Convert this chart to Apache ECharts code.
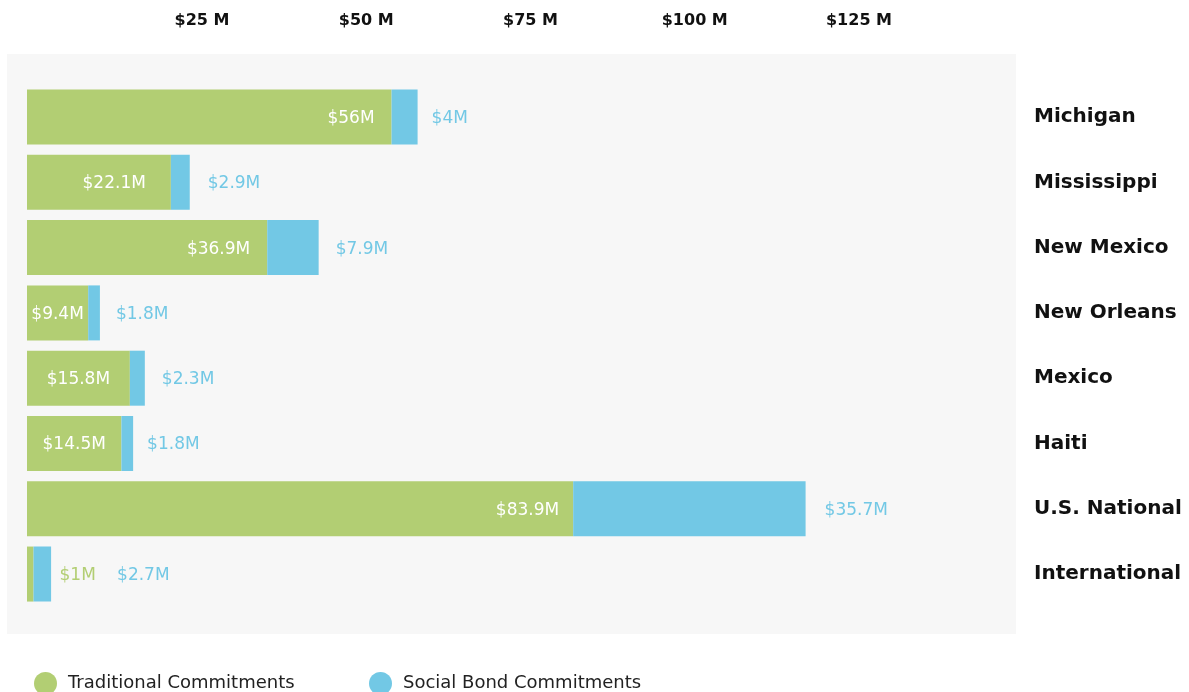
<!DOCTYPE html>
<html>
<head>
<meta charset="utf-8">
<script src="https://cdn.jsdelivr.net/npm/echarts@6/dist/echarts.min.js"></script>
<style>
html,body{margin:0;padding:0;background:#ffffff;}
#chart{width:1189px;height:692px;}
</style>
</head>
<body>
<div id="chart"></div>
<script>
const categories = ['Michigan', 'Mississippi', 'New Mexico', 'New Orleans', 'Mexico', 'Haiti', 'U.S. National', 'International'];
const traditional = [56, 22.1, 36.9, 9.4, 15.8, 14.5, 83.9, 1];
const social = [4, 2.9, 7.9, 1.8, 2.3, 1.8, 35.7, 2.7];
const tickValues = [25, 50, 75, 100, 125];

// label placement styles (not data)
const greenPos = ['insideRight', 'insideRight', 'insideRight', 'inside', 'inside', 'inside', 'insideRight', 'right'];
const greenDist = [17, 25, 17, 0, 0, 0, 14, 26];
const blueDist = [14, 18, 17, 16, 17, 14, 19, 66];

const GREEN = '#b2ce73';
const BLUE = '#72c8e5';
const FONT = 'DejaVu Sans';

const chart = echarts.init(document.getElementById('chart'), null, {renderer: 'canvas'});

const fmt = v => '$' + v + 'M';

const greenData = traditional.map((v, i) => ({
  value: v,
  label: {
    position: greenPos[i],
    distance: greenDist[i],
    color: greenPos[i] === 'right' ? GREEN : '#ffffff'
  }
}));
const blueData = social.map((v, i) => ({
  value: v,
  label: { distance: blueDist[i] }
}));

const option = {
  animation: false,
  backgroundColor: '#ffffff',
  graphic: [{
    type: 'rect',
    shape: { x: 7, y: 54, width: 1009, height: 580 },
    style: { fill: '#f7f7f7' },
    silent: true,
    z: -10
  }],
  grid: [
    { left: 27, top: 84.4, width: 976.5, height: 522.3 },
    { left: 37.75, top: 38, width: 985.5, height: 5 }
  ],
  legend: [
    {
      data: ['Traditional Commitments'],
      left: 29, top: 667,
      itemWidth: 23, itemHeight: 23, icon: 'circle',
      textStyle: { fontFamily: FONT, fontSize: 18, color: '#222', padding: [0, 0, 0, 6] }
    },
    {
      data: ['Social Bond Commitments'],
      left: 364, top: 667,
      itemWidth: 23, itemHeight: 23, icon: 'circle',
      textStyle: { fontFamily: FONT, fontSize: 18, color: '#222', padding: [0, 0, 0, 6] }
    }
  ],
  xAxis: [
    {
      type: 'value', gridIndex: 0, min: 0, max: 150,
      show: false
    },
    {
      type: 'value', gridIndex: 1, min: 0, max: 150, interval: 25,
      position: 'top',
      axisLine: { show: false }, axisTick: { show: false }, splitLine: { show: false },
      axisLabel: {
        show: true, margin: 9,
        fontFamily: FONT, fontWeight: 'bold', fontSize: 16, color: '#111',
        showMinLabel: false, showMaxLabel: false,
        formatter: v => tickValues.indexOf(v) >= 0 ? '$' + v + ' M' : ''
      }
    }
  ],
  yAxis: [
    {
      type: 'category', gridIndex: 0, data: categories, inverse: true,
      position: 'right',
      axisLine: { show: false }, axisTick: { show: false }, splitLine: { show: false },
      axisLabel: {
        align: 'left', margin: 30.5,
        fontFamily: FONT, fontWeight: 'bold', fontSize: 20, color: '#111',
        padding: [2, 0, 0, 0]
      }
    },
    { type: 'value', gridIndex: 1, show: false }
  ],
  series: [
    {
      name: 'Traditional Commitments',
      type: 'bar', stack: 'total', barWidth: 55,
      xAxisIndex: 0, yAxisIndex: 0,
      itemStyle: { color: GREEN },
      label: {
        show: true, fontFamily: FONT, fontSize: 17, color: '#ffffff',
        offset: [0, 1.5],
        formatter: p => fmt(p.value)
      },
      data: greenData
    },
    {
      name: 'Social Bond Commitments',
      type: 'bar', stack: 'total', barWidth: 55,
      xAxisIndex: 0, yAxisIndex: 0,
      itemStyle: { color: BLUE },
      label: {
        show: true, position: 'right', fontFamily: FONT, fontSize: 17, color: BLUE,
        offset: [0, 1.5],
        formatter: p => fmt(p.value)
      },
      data: blueData
    }
  ]
};
chart.setOption(option);
</script>
</body>
</html>
